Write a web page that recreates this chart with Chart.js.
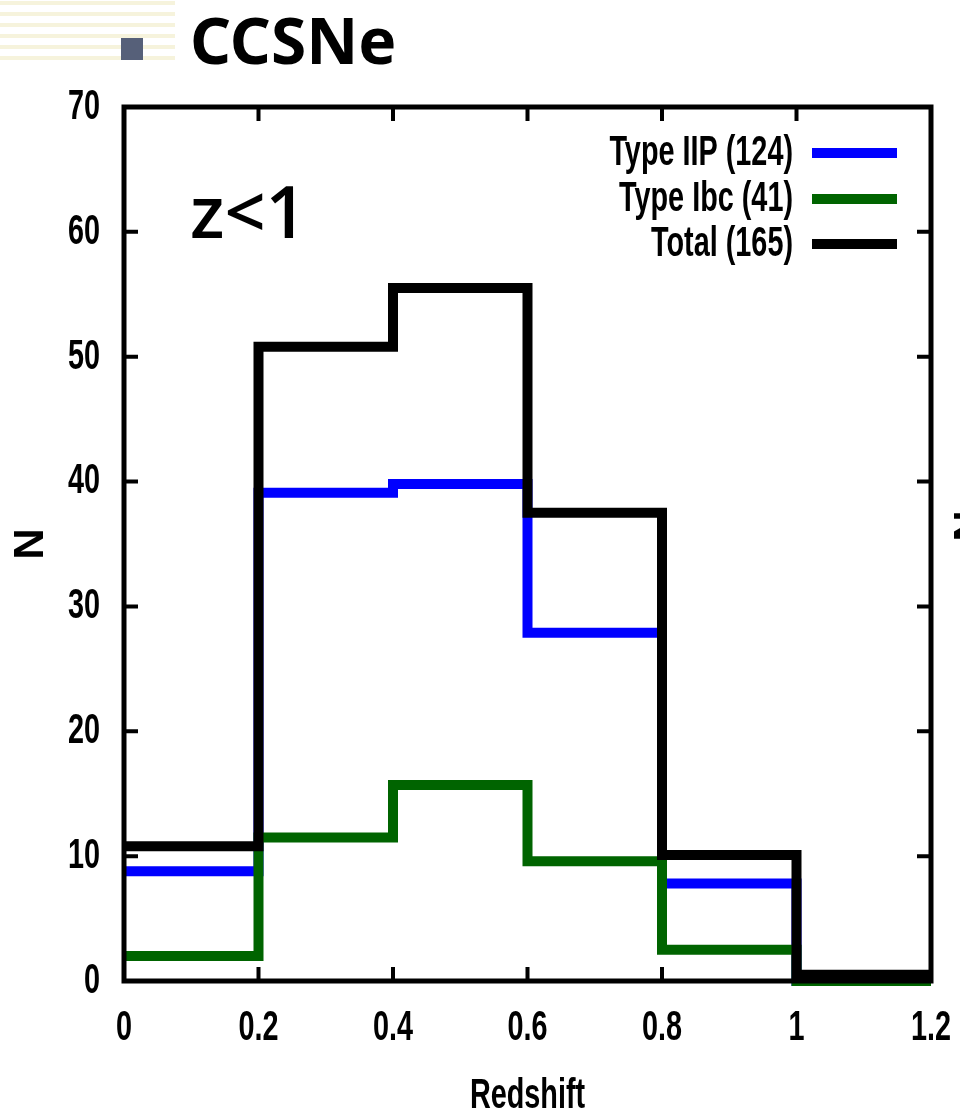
<!DOCTYPE html>
<html>
<head>
<meta charset="utf-8">
<script src="https://cdn.jsdelivr.net/npm/chart.js@4.4.0/dist/chart.umd.min.js"></script>
<style>
    html, body { margin: 0; padding: 0; background: #fff; }
    canvas { display: block; }
</style>
</head>
<body>
<canvas id="ccsneChart" width="960" height="1117"></canvas>
<script>
// bin edges (redshift) and counts per bin
const binEdges = [0, 0.2, 0.4, 0.6, 0.8, 1.0, 1.2];
const iipCounts = [8.8, 39.1, 39.8, 27.9, 7.8, 0];
const ibcCounts = [2.0, 11.5, 15.7, 9.6, 2.5, 0];
const totalCounts = [10.8, 50.8, 55.5, 37.5, 10.1, 0.5];

const xTicks = [0, 0.2, 0.4, 0.6, 0.8, 1, 1.2];
const xTickLabels = ['0', '0.2', '0.4', '0.6', '0.8', '1', '1.2'];
const yTicks = [0, 10, 20, 30, 40, 50, 60, 70];

const legendLabels = ['Type IIP (124)', 'Type Ibc (41)', 'Total (165)'];
const pageTitle = 'CCSNe';
const panelNote = 'z<1';

const COLORS = {
    iip: 'rgb(0,0,255)',
    ibc: 'rgb(0,100,0)',
    total: 'rgb(0,0,0)'
};

const LABEL_FONT = 'bold 43px "Liberation Sans", Arial, sans-serif';
const SQUISH = 0.67;

// histogram steps: one point at the left edge of each bin plus the last right edge
function toSteps(counts) {
    var pts = [];
    for (var i = 0; i < counts.length; i++) {
        pts.push({x: binEdges[i], y: counts[i]});
    }
    pts.push({x: binEdges[binEdges.length - 1], y: counts[counts.length - 1]});
    return pts;
}

function squishText(ctx, text, x, y, align, scaleX) {
    ctx.save();
    ctx.translate(x, y);
    ctx.scale(scaleX, 1);
    ctx.textAlign = align;
    ctx.fillText(text, 0, 0);
    ctx.restore();
}

// slide decoration behind everything
const slideBackground = {
    id: 'slideBackground',
    beforeDraw(chart) {
        var ctx = chart.ctx;
        ctx.save();
        ctx.fillStyle = '#fff';
        ctx.fillRect(0, 0, chart.width, chart.height);
        ctx.fillStyle = '#f6f3dc';
        for (var y = 1; y < 66; y += 11) {
            ctx.fillRect(0, y, 175, 4);
        }
        ctx.fillStyle = '#566079';
        ctx.fillRect(121, 38, 22, 22);
        ctx.fillStyle = '#000';
        ctx.font = 'bold 64px "Noto Sans", sans-serif';
        ctx.textBaseline = 'alphabetic';
        ctx.textAlign = 'left';
        ctx.fillText(pageTitle, 190, 64);
        ctx.restore();
    }
};

// gnuplot style frame, inward ticks, labels and legend
const gnuplotFrame = {
    id: 'gnuplotFrame',
    afterDatasetsDraw(chart) {
        var ctx = chart.ctx;
        var area = chart.chartArea;
        var xs = chart.scales.x;
        var ys = chart.scales.y;
        ctx.save();
        ctx.strokeStyle = '#000';
        ctx.lineWidth = 5;
        ctx.strokeRect(area.left, area.top, area.right - area.left, area.bottom - area.top);

        ctx.lineWidth = 4;
        ctx.beginPath();
        xTicks.forEach(function(v) {
            var px = xs.getPixelForValue(v);
            ctx.moveTo(px, area.bottom);
            ctx.lineTo(px, area.bottom - 14);
            ctx.moveTo(px, area.top);
            ctx.lineTo(px, area.top + 14);
        });
        yTicks.forEach(function(v) {
            var py = ys.getPixelForValue(v);
            ctx.moveTo(area.left, py);
            ctx.lineTo(area.left + 14, py);
            ctx.moveTo(area.right, py);
            ctx.lineTo(area.right - 14, py);
        });
        ctx.stroke();

        ctx.fillStyle = '#000';
        ctx.font = LABEL_FONT;
        ctx.textBaseline = 'middle';
        yTicks.forEach(function(v) {
            squishText(ctx, String(v), area.left - 24, ys.getPixelForValue(v), 'right', SQUISH);
        });
        xTicks.forEach(function(v, i) {
            squishText(ctx, xTickLabels[i], xs.getPixelForValue(v), area.bottom + 47, 'center', SQUISH);
        });
        squishText(ctx, 'Redshift', (area.left + area.right) / 2, area.bottom + 115, 'center', SQUISH);

        ctx.save();
        ctx.translate(31, (area.top + area.bottom) / 2);
        ctx.rotate(-Math.PI / 2);
        ctx.textAlign = 'center';
        ctx.fillText('N', 0, 0);
        ctx.restore();

        // clipped axis title of the neighbouring panel
        ctx.save();
        ctx.translate(971, 526);
        ctx.rotate(-Math.PI / 2);
        ctx.textAlign = 'center';
        ctx.fillText('N', 0, 0);
        ctx.restore();

        // legend
        var colors = [COLORS.iip, COLORS.ibc, COLORS.total];
        var rowY = [153, 199, 244];
        for (var i = 0; i < legendLabels.length; i++) {
            ctx.fillStyle = '#000';
            squishText(ctx, legendLabels[i], 793, rowY[i], 'right', SQUISH);
            ctx.strokeStyle = colors[i];
            ctx.lineWidth = 10;
            ctx.beginPath();
            ctx.moveTo(812, rowY[i]);
            ctx.lineTo(897, rowY[i]);
            ctx.stroke();
        }

        ctx.font = '600 72px "Open Sans", "Noto Sans", sans-serif';
        ctx.textBaseline = 'alphabetic';
        ctx.textAlign = 'left';
        ctx.fillText(panelNote, 190, 238);
        ctx.restore();
    }
};

function makeLine(label, counts, color) {
    return {
        label: label,
        data: toSteps(counts),
        borderColor: color,
        borderWidth: 10,
        // 'before' in Chart.js: horizontal run first, then the jump at the next edge
        stepped: 'before',
        pointRadius: 0,
        fill: false,
        clip: false,
        borderJoinStyle: 'miter',
        borderCapStyle: 'butt'
    };
}

var ctx = document.getElementById('ccsneChart');
var myChart = new Chart(ctx, {
    type: 'line',
    data: {
        // first dataset ends up on top
        datasets: [
            makeLine('Total', totalCounts, COLORS.total),
            makeLine('Type Ibc', ibcCounts, COLORS.ibc),
            makeLine('Type IIP', iipCounts, COLORS.iip)
        ]
    },
    options: {
        responsive: false,
        animation: false,
        devicePixelRatio: 1,
        layout: {
            padding: {left: 124, right: 29, top: 107, bottom: 136}
        },
        plugins: {
            legend: {display: false},
            title: {display: false},
            tooltip: {enabled: false}
        },
        scales: {
            x: {
                type: 'linear',
                min: 0,
                max: 1.2,
                display: false
            },
            y: {
                type: 'linear',
                min: 0,
                max: 70,
                display: false
            }
        }
    },
    plugins: [slideBackground, gnuplotFrame]
});
</script>
</body>
</html>
